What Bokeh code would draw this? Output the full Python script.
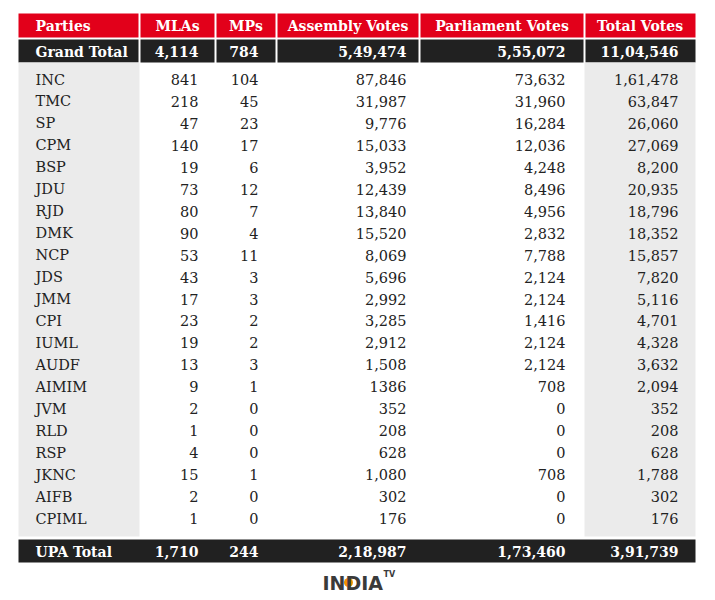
from bokeh.plotting import figure
from bokeh.models import Range1d, ColumnDataSource
from bokeh.core.properties import value
from bokeh.embed import file_html
from bokeh.resources import INLINE

# ---- data ----
headers = ["Parties", "MLAs", "MPs", "Assembly Votes", "Parliament Votes", "Total Votes"]
grand_total = ["Grand Total", "4,114", "784", "5,49,474", "5,55,072", "11,04,546"]
upa_total = ["UPA Total", "1,710", "244", "2,18,987", "1,73,460", "3,91,739"]
parties = ["INC", "TMC", "SP", "CPM", "BSP", "JDU", "RJD", "DMK", "NCP", "JDS", "JMM",
           "CPI", "IUML", "AUDF", "AIMIM", "JVM", "RLD", "RSP", "JKNC", "AIFB", "CPIML"]
mlas = ["841", "218", "47", "140", "19", "73", "80", "90", "53", "43", "17",
        "23", "19", "13", "9", "2", "1", "4", "15", "2", "1"]
mps = ["104", "45", "23", "17", "6", "12", "7", "4", "11", "3", "3",
       "2", "2", "3", "1", "0", "0", "0", "1", "0", "0"]
assembly = ["87,846", "31,987", "9,776", "15,033", "3,952", "12,439", "13,840", "15,520",
            "8,069", "5,696", "2,992", "3,285", "2,912", "1,508", "1386", "352", "208",
            "628", "1,080", "302", "176"]
parliament = ["73,632", "31,960", "16,284", "12,036", "4,248", "8,496", "4,956", "2,832",
              "7,788", "2,124", "2,124", "1,416", "2,124", "2,124", "708", "0", "0",
              "0", "708", "0", "0"]
total = ["1,61,478", "63,847", "26,060", "27,069", "8,200", "20,935", "18,796", "18,352",
         "15,857", "7,820", "5,116", "4,701", "4,328", "3,632", "2,094", "352", "208",
         "628", "1,788", "302", "176"]

# ---- layout (pixel coordinates of the picture) ----
col_edges = [19, 140, 216, 277, 420, 585, 696]
right_x = [None, 199, 259, 407, 566, 679]
left_x0 = 36
RED = "#e2001a"
DARK = "#212121"
GRAY = "#ebebeb"
TXT = "#222222"
FONT = "DejaVu Serif"

p = figure(width=699, height=592, x_range=Range1d(1, 700), y_range=Range1d(593, 1),
           output_backend="svg", toolbar_location=None, min_border=0)
p.axis.visible = False
p.grid.visible = False
p.outline_line_color = None
p.background_fill_color = "white"
p.border_fill_color = "white"

# header cells
p.quad(left=[col_edges[i] + (1 if i > 0 else 0) for i in range(6)],
       right=[col_edges[i + 1] - 1 if i < 5 else col_edges[i + 1] for i in range(6)],
       top=[14] * 6, bottom=[38] * 6, fill_color=RED, line_color=None)
# grand total cells
p.quad(left=[col_edges[i] + (1 if i > 0 else 0) for i in range(6)],
       right=[col_edges[i + 1] - 1 if i < 5 else col_edges[i + 1] for i in range(6)],
       top=[40] * 6, bottom=[63] * 6, fill_color=DARK, line_color=None)
# gray columns in body
p.quad(left=[col_edges[0], col_edges[5]], right=[col_edges[1], col_edges[6]],
       top=[63, 63], bottom=[537, 537], fill_color=GRAY, line_color=None)
# UPA total row
p.quad(left=[col_edges[0]], right=[col_edges[6]], top=[540], bottom=[563],
       fill_color=DARK, line_color=None)

# header texts
hx = [left_x0] + [(col_edges[i] + col_edges[i + 1]) / 2 for i in range(1, 6)]
ha = ["left"] + ["center"] * 5
p.text(x=hx, y=[26.5] * 6, text=headers, text_align=ha, text_baseline="middle",
       text_color="white", text_font=value(FONT), text_font_style="bold",
       text_font_size="14px")

# totals rows
tx = [left_x0] + right_x[1:]
ta = ["left"] + ["right"] * 5
for row, yy in ((grand_total, 52), (upa_total, 552)):
    p.text(x=tx, y=[yy] * 6, text=row, text_align=ta, text_baseline="middle",
           text_color="white", text_font=value(FONT), text_font_style="bold",
           text_font_size="14px")

# body rows
n = len(parties)
ys = [80 + i * 21.95 for i in range(n)]
src = ColumnDataSource(dict(y=ys, party=parties, mlas=mlas, mps=mps, assembly=assembly,
                            parliament=parliament, total=total))
p.text(x=left_x0, y="y", text="party", source=src, text_align="left",
       text_baseline="middle", text_color=TXT, text_font=value(FONT),
       text_font_size="14.5px")
for col, xx in (("mlas", right_x[1]), ("mps", right_x[2]), ("assembly", right_x[3]),
                ("parliament", right_x[4]), ("total", right_x[5])):
    p.text(x=xx, y="y", text=col, source=src, text_align="right",
           text_baseline="middle", text_color=TXT, text_font=value(FONT),
           text_font_size="14.5px")

# logo
p.circle(x=[349], y=[583], radius=4.5, fill_color="#f39200", line_color=None)
p.text(x=[323], y=[583], text=["INDIA"], text_align="left", text_baseline="middle",
       text_color="#3a3a3a", text_font=value("DejaVu Sans"), text_font_style="bold",
       text_font_size="19px")
p.text(x=[384], y=[575], text=["TV"], text_align="left", text_baseline="middle",
       text_color="#3a3a3a", text_font=value("DejaVu Sans"), text_font_style="bold",
       text_font_size="8px")

open("out.html", "w").write(file_html(p, INLINE))
